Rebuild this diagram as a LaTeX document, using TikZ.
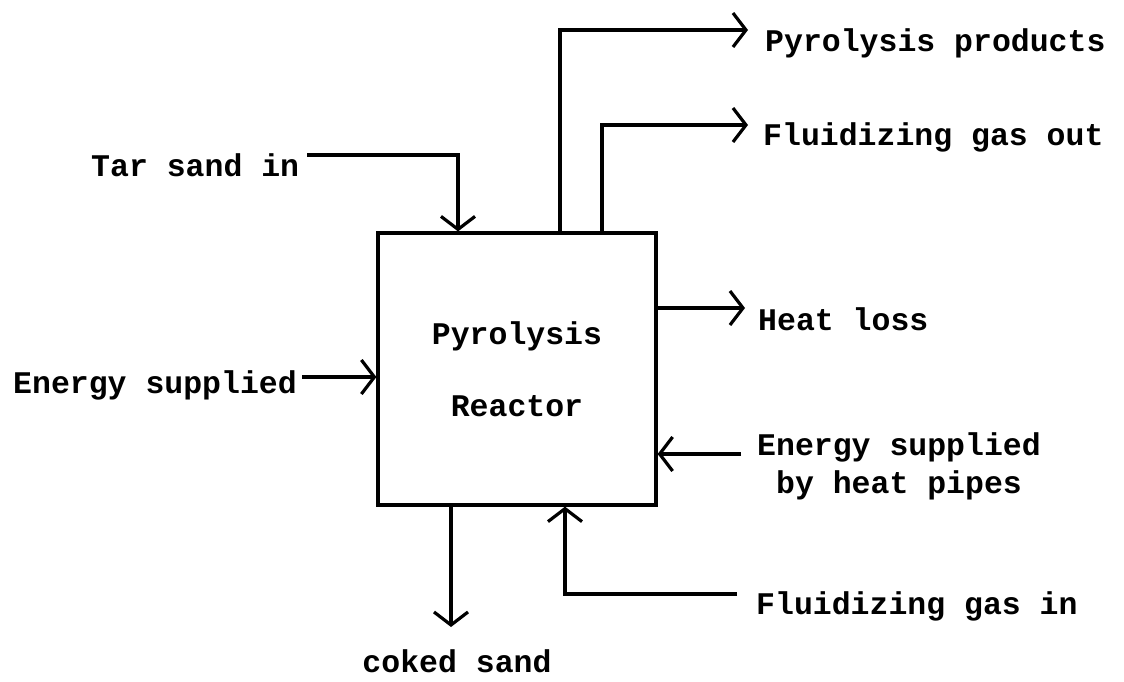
\documentclass[tikz,border=0pt]{standalone}
\usepackage{fontspec}
\setmainfont{Liberation Mono}
\usetikzlibrary{arrows.meta}

\begin{document}
\begin{tikzpicture}[x=1pt,y=-1pt,
    every node/.style={font=\fontsize{31.5}{38}\selectfont\bfseries, inner sep=0pt},
    pipe/.style={line width=3.2pt},
    flow/.style={pipe, -{Straight Barb[length=13pt,width=34pt]}}]
    \useasboundingbox (0,0) rectangle (1124,681);
    % reactor
    \node[draw, pipe, minimum width=278pt, minimum height=272pt, align=center] (reactor) at (517,369) {Pyrolysis\\[34pt]Reactor};
    % labels
    \node[anchor=west] (tarsand) at (91,165) {Tar sand in};
    \node[anchor=west] (products) at (765,43) {Pyrolysis products};
    \node[anchor=west] (gasout) at (763,137) {Fluidizing gas out};
    \node[anchor=west] (heatloss) at (758,319) {Heat loss};
    \node[anchor=west] (energy) at (13,385) {Energy supplied};
    \node[align=center] (heatpipes) at (899,466) {Energy supplied\\by heat pipes};
    \node[anchor=west] (gasin) at (756,606) {Fluidizing gas in};
    \node (coked) at (457,661) {coked sand};
    % free ends and bends
    \coordinate (tarbend) at (458,155);
    \coordinate (prodbend) at (560,30);
    \coordinate (prodend) at (748,30);
    \coordinate (outbend) at (602,125);
    \coordinate (outend) at (748,125);
    \coordinate (lossend) at (745,308);
    \coordinate (energystart) at (302,377);
    \coordinate (pipestart) at (741,454);
    \coordinate (ginstart) at (737,594);
    \coordinate (ginbend) at (565,594);
    \coordinate (cokedend) at (451,627);
    % streams
    \draw[flow] (tarsand.east |- tarbend) ++(8,0) -- (tarbend) -- (tarbend |- reactor.north);
    \draw[flow] (prodbend |- reactor.north) -- (prodbend) -- (prodend);
    \draw[flow] (outbend |- reactor.north) -- (outbend) -- (outend);
    \draw[flow] (reactor.east |- lossend) -- (lossend);
    \draw[flow] (energystart) -- (energystart -| reactor.west);
    \draw[flow] (pipestart) -- (pipestart -| reactor.east);
    \draw[flow] (ginstart) -- (ginbend) -- (ginbend |- reactor.south);
    \draw[flow] (cokedend |- reactor.south) -- (cokedend);
\end{tikzpicture}
\end{document}
